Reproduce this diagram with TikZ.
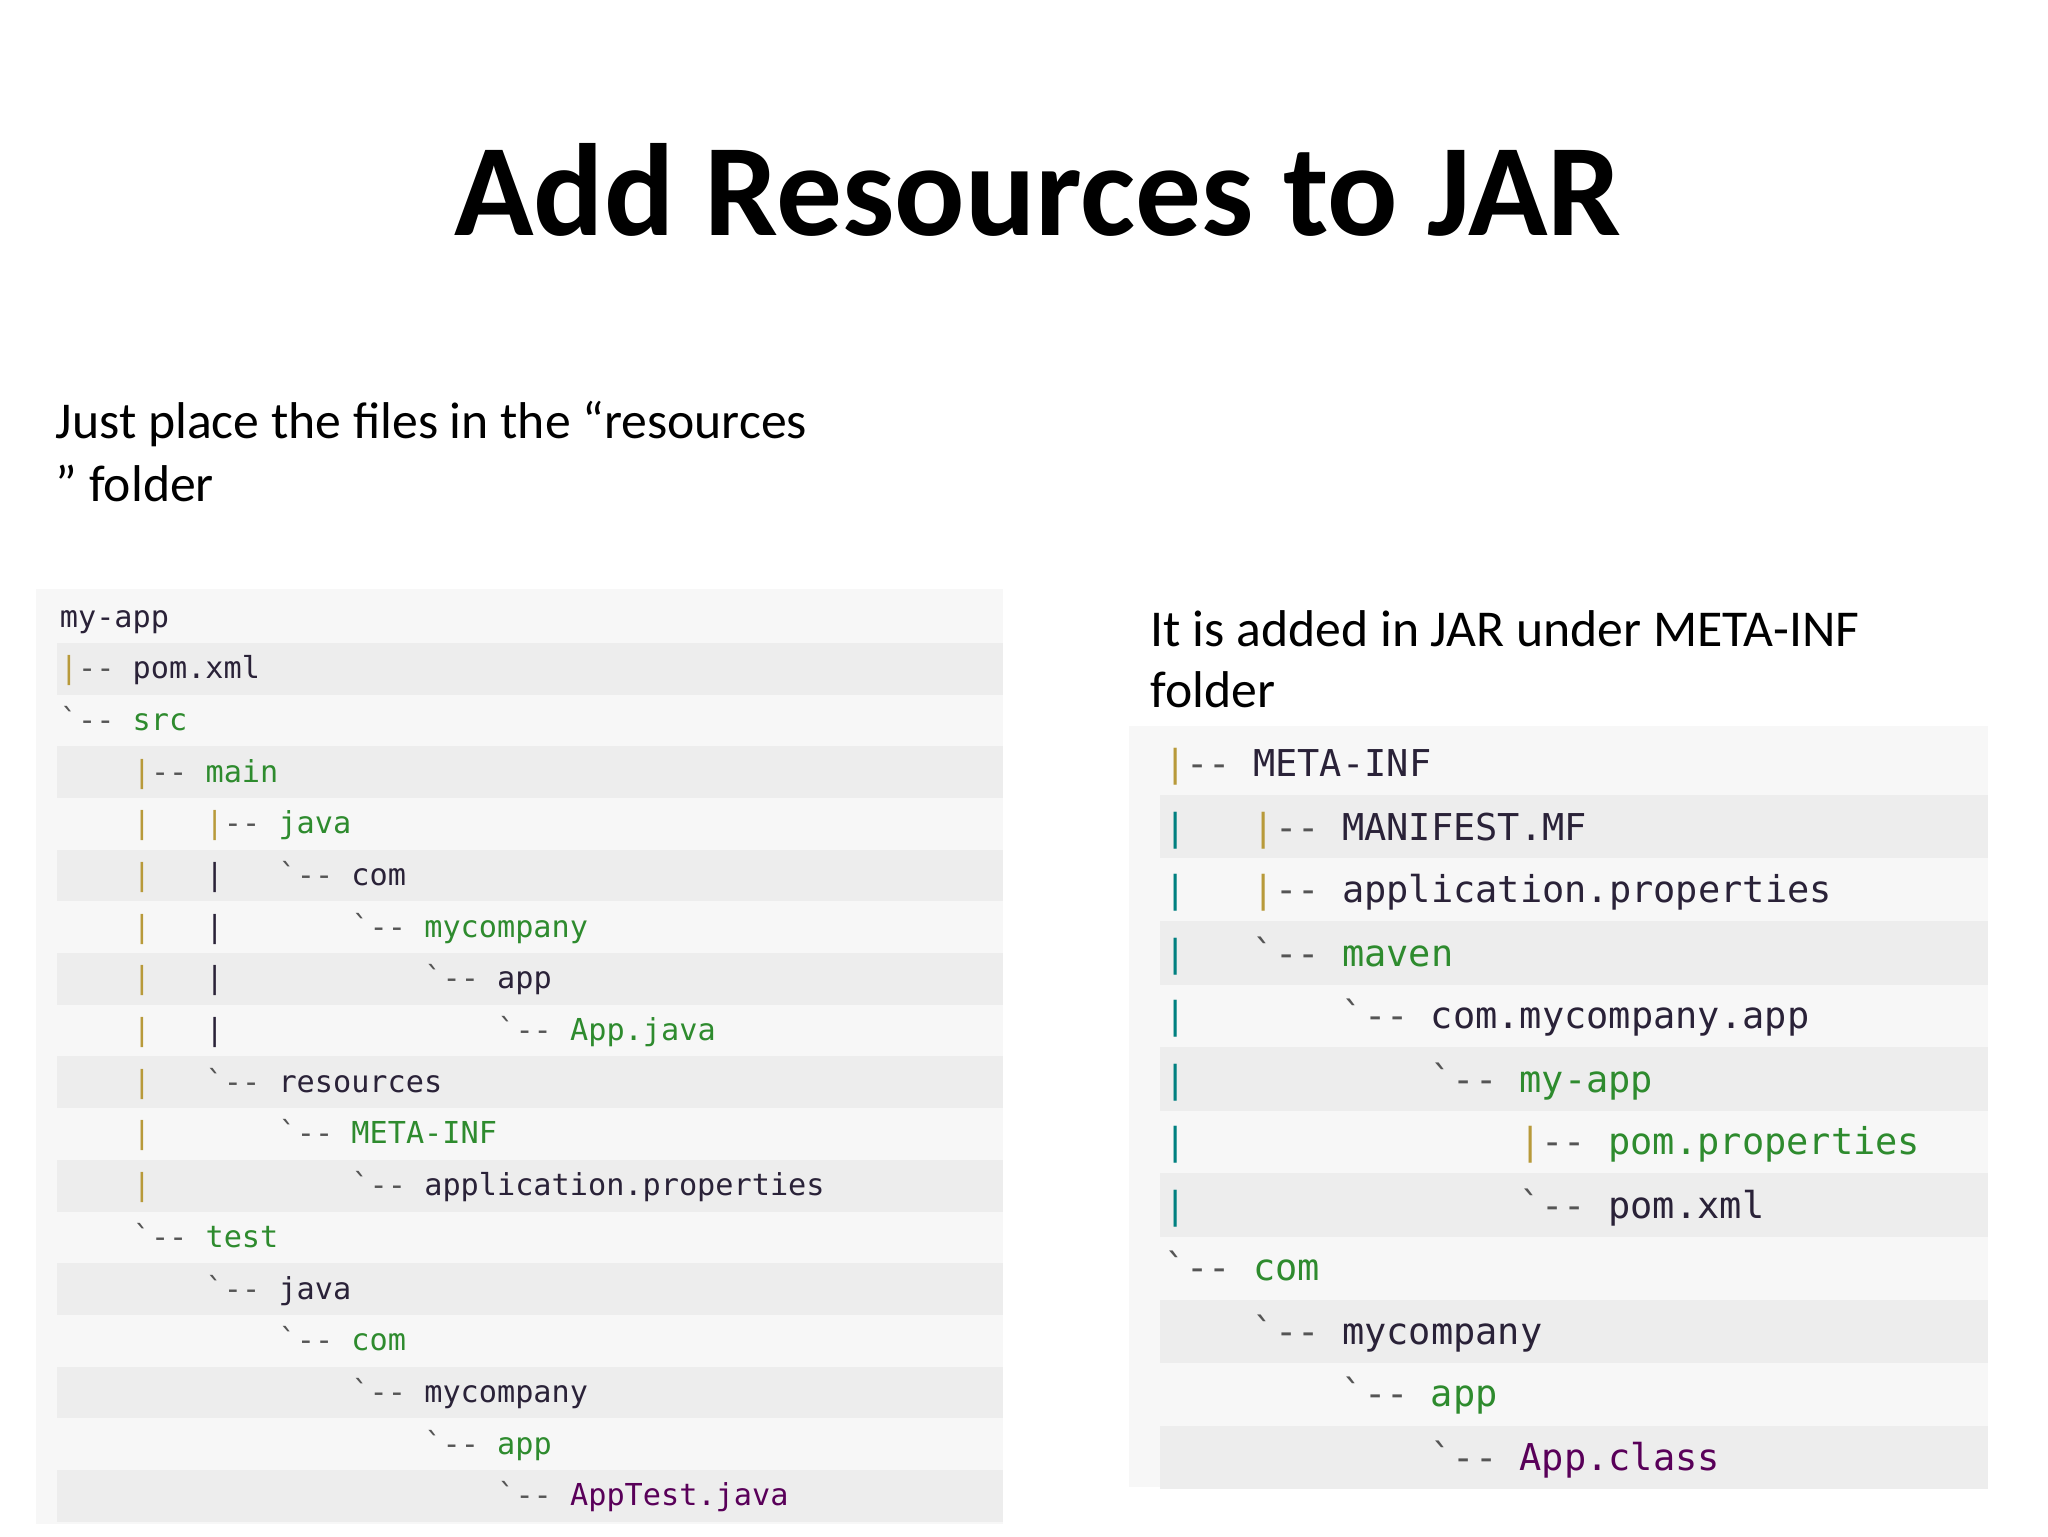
\documentclass[tikz,border=0pt]{standalone}
\usepackage{fontspec}
\setmainfont{Carlito}
\setmonofont{DejaVu Sans Mono}
\definecolor{grn}{HTML}{2E8B2E}
\definecolor{drk}{HTML}{2A2238}
\definecolor{pipe}{HTML}{B89A3A}
\definecolor{tre}{HTML}{555555}
\definecolor{panel}{HTML}{F7F7F7}
\definecolor{stripe}{HTML}{EDEDED}
\tikzset{
  lt/.style={anchor=base west,inner sep=0pt,font=\fontsize{22.8}{24}\ttfamily},
  rt/.style={anchor=base west,inner sep=0pt,font=\fontsize{27.9}{30}\ttfamily},
  body/.style={font=\fontsize{39}{46}\selectfont,anchor=base west,inner sep=0pt},
}
\newcommand{\br}{\textcolor{pipe}{|}\textcolor{tre}{-- }}
\newcommand{\bl}{\textcolor{tre}{\textasciigrave-- }}
\begin{document}
\begin{tikzpicture}[x=1pt,y=-1pt]
\useasboundingbox (0,0) rectangle (1545,1159);
\node[font=\fontsize{99}{104}\bfseries,anchor=base] (title) at (783,178) {Add Resources to JAR};
\node[body] (t1) at (42,331) {Just place the files in the “resources};
\node[body] (t2) at (42,378) {” folder};
\node[body] (t3) at (868,488) {It is added in JAR under META-INF};
\node[body] (t4) at (868,534) {folder};
% left panel
\fill[panel] (27,444) rectangle (757,1150);
\foreach \i in {1,3,5,7,9,11,13,15,17}{\fill[stripe] (43,446+39*\i) rectangle (757,485+39*\i);}
\node[lt,text=drk] (a0) at (45,473) {my-app};
\node[lt] (a1) at (45,512) {\br\textcolor{drk}{pom.xml}};
\node[lt] (a2) at (45,551) {\bl\textcolor{grn}{src}};
\node[lt] (a3) at (100,590) {\br\textcolor{grn}{main}};
\foreach \y in {629,668,707,746,785,824,863,902}{\node[lt,text=pipe] at (100,\y) {|};}
\foreach \y in {668,707,746,785}{\node[lt,text=drk] at (155,\y) {|};}
\node[lt] (a4) at (155,629) {\br\textcolor{grn}{java}};
\node[lt] (a5) at (210,668) {\bl\textcolor{drk}{com}};
\node[lt] (a6) at (265,707) {\bl\textcolor{grn}{mycompany}};
\node[lt] (a7) at (320,746) {\bl\textcolor{drk}{app}};
\node[lt] (a8) at (375,785) {\bl\textcolor{grn}{App.java}};
\node[lt] (a9) at (155,824) {\bl\textcolor{drk}{resources}};
\node[lt] (a10) at (210,863) {\bl\textcolor{grn}{META-INF}};
\node[lt] (a11) at (265,902) {\bl\textcolor{drk}{application.properties}};
\node[lt] (a12) at (100,941) {\bl\textcolor{grn}{test}};
\node[lt] (a13) at (155,980) {\bl\textcolor{drk}{java}};
\node[lt] (a14) at (210,1019) {\bl\textcolor{grn}{com}};
\node[lt] (a15) at (265,1058) {\bl\textcolor{drk}{mycompany}};
\node[lt] (a16) at (320,1097) {\bl\textcolor{grn}{app}};
\node[lt] (a17) at (375,1136) {\bl\textcolor{violet!70!black}{AppTest.java}};
% right panel
\fill[panel] (852,548) rectangle (1500,1122);
\foreach \i in {1,3,5,7,9,11}{\fill[stripe] (875,552+47.6*\i) rectangle (1500,600+47.6*\i);}
\node[rt] (b0) at (878,586) {\br\textcolor{drk}{META-INF}};
\foreach \y in {634,681,729,776,824,871,919}{\node[rt,text=teal] at (878,\y) {|};}
\node[rt] (b1) at (945,634) {\br\textcolor{drk}{MANIFEST.MF}};
\node[rt] (b2) at (945,681) {\br\textcolor{drk}{application.properties}};
\node[rt] (b3) at (945,729) {\bl\textcolor{grn}{maven}};
\node[rt] (b4) at (1012,776) {\bl\textcolor{drk}{com.mycompany.app}};
\node[rt] (b5) at (1079,824) {\bl\textcolor{grn}{my-app}};
\node[rt] (b6) at (1146,871) {\br\textcolor{grn}{pom.properties}};
\node[rt] (b7) at (1146,919) {\bl\textcolor{drk}{pom.xml}};
\node[rt] (b8) at (878,966) {\bl\textcolor{grn}{com}};
\node[rt] (b9) at (945,1014) {\bl\textcolor{drk}{mycompany}};
\node[rt] (b10) at (1012,1061) {\bl\textcolor{grn}{app}};
\node[rt] (b11) at (1079,1109) {\bl\textcolor{violet!70!black}{App.class}};
\end{tikzpicture}
\end{document}
